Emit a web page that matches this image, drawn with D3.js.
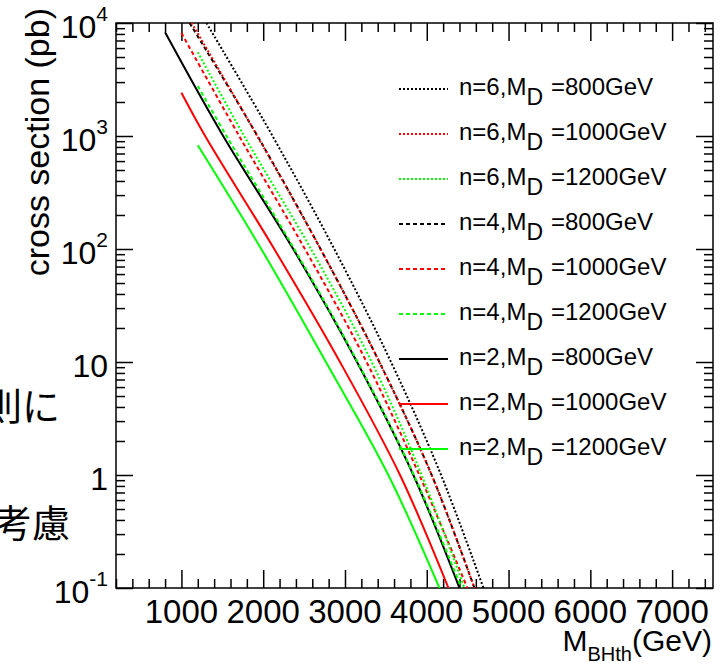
<!DOCTYPE html>
<html lang="ja">
<head>
<meta charset="utf-8">
<title>cross section vs M_BHth</title>
<script src="https://cdn.jsdelivr.net/npm/d3@7"></script>
<style>
  body { margin: 0; background: #fff; }
  svg text { font-family: "Liberation Sans", Arial, Helvetica, sans-serif; fill: #000; }
  .jp { font-family: "Noto Sans CJK JP", sans-serif; }
  .tick line { stroke: #000; stroke-width: 1.5; }
</style>
</head>
<body>
<script>
// curves: [M_BHth (GeV), cross section (pb)]
var n6_md800  = [[1306, 10000], [2114, 1000], [2869, 100], [3563, 10], [4175, 1], [4693, 0.1]];
var n6_md1000 = [[1125, 10000], [1927, 1000], [2701, 100], [3420, 10], [4060, 1], [4583, 0.1]];
var n6_md1200 = [[1200, 5510], [1767, 1000], [2584, 100], [3326, 10], [3937, 1], [4461, 0.1]];
var n4_md800  = [[1100, 10000], [1930, 1000], [2701, 100], [3420, 10], [4060, 1], [4583, 0.1]];
var n4_md1000 = [[1000, 8150], [1706, 1000], [2510, 100], [3264, 10], [3909, 1], [4497, 0.1]];
var n4_md1200 = [[1200, 2770], [1551, 1000], [2380, 100], [3154, 10], [3842, 1], [4424, 0.1]];
var n2_md800  = [[800, 8270], [1510, 1000], [2367, 100], [3147, 10], [3836, 1], [4400, 0.1]];
var n2_md1000 = [[1000, 2415], [1290, 1000], [2135, 100], [2939, 10], [3673, 1], [4265, 0.1]];
var n2_md1200 = [[1200, 828], [1976, 100], [2767, 10], [3530, 1], [4155, 0.1]];

// legend order
var nValues  = [6, 6, 6, 4, 4, 4, 2, 2, 2];
var mdValues = [800, 1000, 1200, 800, 1000, 1200, 800, 1000, 1200];
var curves   = [n6_md800, n6_md1000, n6_md1200, n4_md800, n4_md1000, n4_md1200, n2_md800, n2_md1000, n2_md1200];

// axis ticks
var xMajor = [1000, 2000, 3000, 4000, 5000, 6000, 7000];
var xLabels = ["1000", "2000", "3000", "4000", "5000", "6000", "7000"];
var yDecades = [0.1, 1, 10, 100, 1000, 10000];
var yBase = ["10", "1", "10", "10", "10", "10"];
var yExp  = ["-1", "", "", "2", "3", "4"];

// styles
var colorByMD = {800: "#000000", 1000: "#ff0000", 1200: "#00ff00"};
var dashByN = {6: "2,2", 4: "4,3", 2: null};

var W = 724, H = 663;
var margin = {top: 23, right: 11, bottom: 75, left: 116};
var plotW = W - margin.left - margin.right;
var plotH = H - margin.top - margin.bottom;

var svg = d3.select("body").append("svg")
    .attr("width", W)
    .attr("height", H);

// japanese slide text peeking in on the left
svg.append("text").attr("class", "jp")
    .attr("x", 60).attr("y", 420)
    .attr("text-anchor", "end")
    .style("font-size", "38px")
    .text("則に");
svg.append("text").attr("class", "jp")
    .attr("x", 70).attr("y", 537)
    .attr("text-anchor", "end")
    .style("font-size", "38px")
    .text("考慮");

var g = svg.append("g")
    .attr("transform", "translate(" + margin.left + "," + margin.top + ")");

var xScale = d3.scaleLinear().domain([200, 7500]).range([0, plotW]);
var yScale = d3.scaleLog().domain([0.1, 10000]).range([plotH, 0]);

g.append("clipPath").attr("id", "frameClip")
  .append("rect").attr("width", plotW).attr("height", plotH);

// ticks
var xMinor = d3.range(200, 7500, 200).filter(function(v) { return v % 1000 != 0; });
var yMinor = yScale.ticks().filter(function(v) { return yDecades.indexOf(v) < 0; });

function ticksOnly(axis) {
    return function(sel) {
        sel.call(axis);
        sel.select(".domain").remove();
        sel.selectAll("text").remove();
    };
}

g.append("g").attr("transform", "translate(0," + plotH + ")")
    .call(ticksOnly(d3.axisBottom(xScale).tickValues(xMinor).tickSize(-9)));
g.append("g").attr("transform", "translate(0," + plotH + ")")
    .call(ticksOnly(d3.axisBottom(xScale).tickValues(xMajor).tickSize(-18)));
g.append("g")
    .call(ticksOnly(d3.axisTop(xScale).tickValues(xMinor).tickSize(-9)));
g.append("g")
    .call(ticksOnly(d3.axisTop(xScale).tickValues(xMajor).tickSize(-18)));

g.append("g")
    .call(ticksOnly(d3.axisLeft(yScale).tickValues(yMinor).tickSize(-9)));
g.append("g")
    .call(ticksOnly(d3.axisLeft(yScale).tickValues(yDecades).tickSize(-17)));
g.append("g").attr("transform", "translate(" + plotW + ",0)")
    .call(ticksOnly(d3.axisRight(yScale).tickValues(yMinor).tickSize(-9)));
g.append("g").attr("transform", "translate(" + plotW + ",0)")
    .call(ticksOnly(d3.axisRight(yScale).tickValues(yDecades).tickSize(-17)));

// frame
g.append("rect")
    .attr("width", plotW).attr("height", plotH)
    .attr("fill", "none").attr("stroke", "#000").attr("stroke-width", 1.5);

// x tick labels
g.selectAll(".xlab").data(xMajor).enter().append("text")
    .attr("class", "xlab")
    .attr("x", function(d) { return xScale(d); })
    .attr("y", plotH + 35)
    .attr("text-anchor", "middle")
    .style("font-size", "33px")
    .text(function(d, i) { return xLabels[i]; });

// y tick labels with exponents
yDecades.forEach(function(d, i) {
    var t = g.append("text")
        .attr("x", -8)
        .attr("y", yScale(d) + 15)
        .attr("text-anchor", "end")
        .style("font-size", "32px");
    t.append("tspan").text(yBase[i]);
    if (yExp[i] != "") {
        t.append("tspan")
            .attr("dy", -17)
            .style("font-size", "21px")
            .text(yExp[i]);
    }
});

// axis titles
svg.append("text")
    .attr("transform", "translate(49,8) rotate(-90)")
    .attr("text-anchor", "end")
    .style("font-size", "34px")
    .text("cross section (pb)");

var xt = svg.append("text")
    .attr("x", 712).attr("y", 651)
    .attr("text-anchor", "end")
    .style("font-size", "30px");
xt.append("tspan").text("M");
xt.append("tspan").attr("dy", 10).style("font-size", "20px").text("BHth");
xt.append("tspan").attr("dy", -10).text("(GeV)");

// curves
var line = d3.line()
    .x(function(d) { return xScale(d[0]); })
    .y(function(d) { return yScale(d[1]); })
    .curve(d3.curveCatmullRom.alpha(0.5));

var curveGroup = g.append("g").attr("clip-path", "url(#frameClip)");

// draw solid first so dotted/dashed land on top
for (var i = curves.length - 1; i >= 0; i--) {
    curveGroup.append("path")
        .datum(curves[i])
        .attr("d", line)
        .attr("fill", "none")
        .attr("stroke", colorByMD[mdValues[i]])
        .attr("stroke-width", 2)
        .attr("stroke-dasharray", dashByN[nValues[i]]);
}

// legend
var legend = svg.append("g");
nValues.forEach(function(n, i) {
    var ly = 89 + 45 * i;
    legend.append("line")
        .attr("x1", 399).attr("x2", 448)
        .attr("y1", ly).attr("y2", ly)
        .attr("stroke", colorByMD[mdValues[i]])
        .attr("stroke-width", 2)
        .attr("stroke-dasharray", dashByN[n]);
    var t = legend.append("text")
        .attr("x", 459).attr("y", ly + 6)
        .style("font-size", "24px");
    t.append("tspan").text("n=" + n + ",M");
    t.append("tspan").attr("dy", 10).style("font-size", "23px").text("D");
    t.append("tspan").attr("dy", -10).attr("dx", 8).text("=" + mdValues[i] + "GeV");
});
</script>
</body>
</html>
